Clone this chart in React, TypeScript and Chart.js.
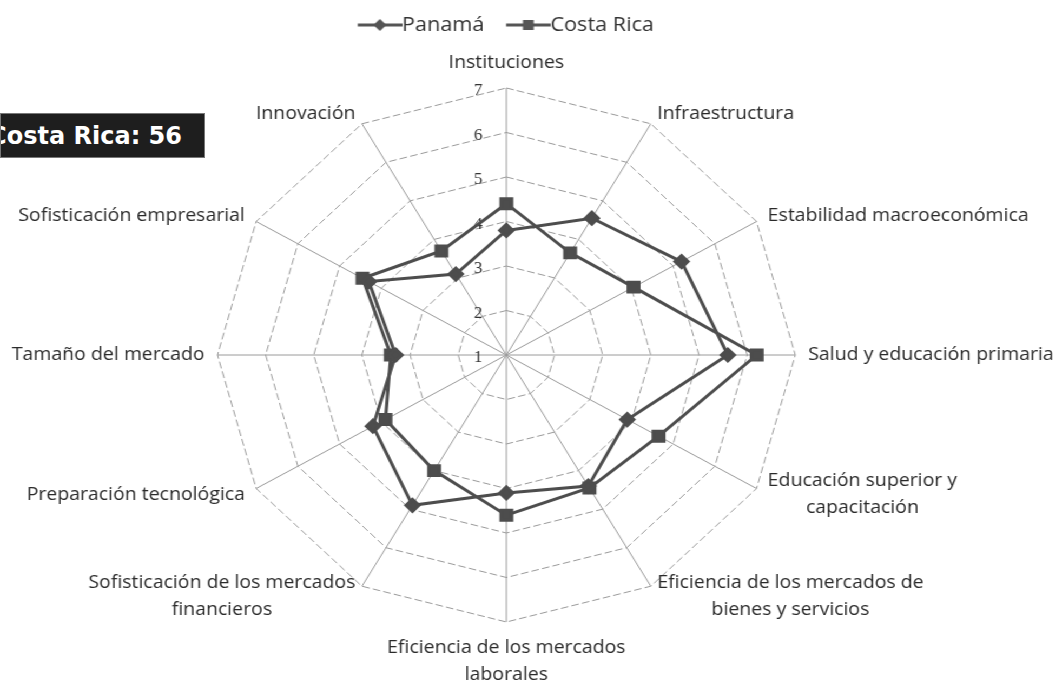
import React, { useEffect, useRef } from "react";
import { Chart, registerables } from "chart.js";

Chart.register(...registerables);

// ---- Data ----
const categories: (string | string[])[] = [
  "Instituciones",
  "Infraestructura",
  "Estabilidad macroeconómica",
  "Salud y educación primaria",
  ["Educación superior y", "capacitación"],
  ["Eficiencia de los mercados de", "bienes y servicios"],
  ["Eficiencia de los mercados", "laborales"],
  ["Sofisticación de los mercados", "financieros"],
  "Preparación tecnológica",
  "Tamaño del mercado",
  "Sofisticación empresarial",
  "Innovación",
];
const seriesNames = ["Panamá", "Costa Rica"];
const panama = [3.8, 4.55, 5.2, 5.6, 3.9, 4.4, 4.1, 4.9, 4.2, 3.3, 4.3, 3.1];
const costaRica = [4.4, 3.65, 4.05, 6.2, 4.65, 4.45, 4.6, 4.0, 3.9, 3.4, 4.45, 3.7];
const tickMin = 1;
const tickMax = 7;
const tickStep = 1;
const rankLabel = "Costa Rica: 56";

// ---- Layout constants ----
const SX = 1.082; // horizontal stretch of the reference image
const CW = 975;
const CH = 683;
const CX = 468;
const CY = 355;
const R = 267;
const LINE = "#4d4d4d";

function makeSymbol(shape: "diamond" | "square"): HTMLCanvasElement {
  const c = document.createElement("canvas");
  c.width = 61;
  c.height = 16;
  const g = c.getContext("2d")!;
  g.strokeStyle = "#555";
  g.fillStyle = "#555";
  g.lineWidth = 3;
  g.beginPath();
  g.moveTo(20, 8);
  g.lineTo(61, 8);
  g.stroke();
  const mx = 40.5;
  const my = 8;
  if (shape === "diamond") {
    g.beginPath();
    g.moveTo(mx, my - 6);
    g.lineTo(mx + 6, my);
    g.lineTo(mx, my + 6);
    g.lineTo(mx - 6, my);
    g.closePath();
    g.fill();
  } else {
    g.fillRect(mx - 5, my - 5, 10, 10);
  }
  return c;
}

const labelPlugin = {
  id: "customLabels",
  beforeDatasetsDraw(chart: any) {
    const scale = chart.scales.r;
    const ctx = chart.ctx as CanvasRenderingContext2D;
    ctx.save();
    ctx.font = "16px 'Liberation Serif'";
    ctx.fillStyle = "#333";
    ctx.textAlign = "center";
    ctx.textBaseline = "middle";
    scale.ticks.forEach((t: any) => {
      const d = scale.getDistanceFromCenterForValue(t.value);
      ctx.fillText(String(t.value), scale.xCenter - 26, scale.yCenter - d + 3);
    });
    ctx.restore();
  },
  afterDraw(chart: any) {
    const scale = chart.scales.r;
    const ctx = chart.ctx as CanvasRenderingContext2D;
    const labels = chart.data.labels as (string | string[])[];
    const n = labels.length;
    const lh = 27;
    ctx.save();
    ctx.font = "18px 'Open Sans'";
    ctx.fillStyle = "#2a2a2a";
    ctx.textBaseline = "middle";
    ctx.textAlign = "center";
    labels.forEach((lbl, i) => {
      const lines = Array.isArray(lbl) ? lbl : [lbl];
      const p = scale.getPointPosition(i, scale.drawingArea + 12);
      const ang = (i / n) * Math.PI * 2;
      const s = Math.sin(ang);
      const c = Math.cos(ang);
      const maxW = Math.max(...lines.map((l) => ctx.measureText(l).width));
      const h = lines.length * lh;
      let cx: number;
      let top: number;
      if (Math.abs(s) < 0.01) {
        cx = p.x;
        top = c > 0 ? p.y - h : p.y;
      } else {
        cx = s > 0 ? p.x + maxW / 2 : p.x - maxW / 2;
        top = p.y - h / 2;
      }
      lines.forEach((l, j) => ctx.fillText(l, cx, top + lh * j + lh / 2));
    });
    ctx.restore();
  },
};

export default function App() {
  const ref = useRef<HTMLCanvasElement | null>(null);

  useEffect(() => {
    if (!ref.current) return;
    const symbols = [makeSymbol("diamond"), makeSymbol("square")];
    const chart = new Chart(ref.current, {
      type: "radar",
      data: {
        labels: categories,
        datasets: [
          {
            label: seriesNames[0],
            data: panama,
            borderColor: LINE,
            backgroundColor: LINE,
            borderWidth: 3,
            pointStyle: "rectRot",
            pointRadius: 6,
            pointBackgroundColor: LINE,
            pointBorderColor: LINE,
            fill: false,
          },
          {
            label: seriesNames[1],
            data: costaRica,
            borderColor: LINE,
            backgroundColor: LINE,
            borderWidth: 3,
            pointStyle: "rect",
            pointRadius: 7,
            pointBackgroundColor: LINE,
            pointBorderColor: LINE,
            fill: false,
          },
        ],
      },
      options: {
        animation: false,
        responsive: false,
        maintainAspectRatio: false,
        layout: { padding: { top: 5, right: 50 } },
        elements: { line: { tension: 0 } },
        plugins: {
          tooltip: { enabled: false },
          legend: {
            position: "top",
            labels: {
              usePointStyle: true,
              pointStyleWidth: 41,
              padding: 10,
              color: "#333",
              font: { family: "'Open Sans'", size: 20 },
              generateLabels: (ch: any) =>
                Chart.defaults.plugins.legend.labels
                  .generateLabels(ch)
                  .map((it: any, i: number) => ({ ...it, pointStyle: symbols[i] })),
            },
          },
        },
        scales: {
          r: {
            min: tickMin,
            max: tickMax,
            ticks: { stepSize: tickStep, display: false },
            pointLabels: { display: false },
            grid: { color: "#9a9a9a", lineWidth: 1 },
            border: { dash: [7, 3] },
            angleLines: { color: "#9a9a9a", lineWidth: 1 },
            afterFit: (s: any) => {
              s.xCenter = CX;
              s.yCenter = CY;
              s.drawingArea = R;
            },
          },
        },
      } as any,
      plugins: [labelPlugin],
    });
    return () => chart.destroy();
  }, []);

  return (
    <>
      <div
        style={{
          position: "absolute",
          left: 0,
          top: 0,
          width: CW,
          height: CH,
          transform: `scaleX(${SX})`,
          transformOrigin: "0 0",
          background: "#fff",
        }}
      >
        <canvas ref={ref} width={CW} height={CH} style={{ display: "block" }} />
      </div>
      <div
        style={{
          position: "absolute",
          left: 0,
          top: 113,
          width: 205,
          height: 45,
          boxSizing: "border-box",
          background: "#1e1e1e",
          border: "1px solid #777",
          color: "#fff",
          fontFamily: "'DejaVu Sans'",
          fontWeight: 700,
          fontSize: 24,
          display: "flex",
          alignItems: "center",
          justifyContent: "flex-end",
          paddingRight: 22,
          whiteSpace: "nowrap",
          overflow: "hidden",
        }}
      >
        {rankLabel}
      </div>
    </>
  );
}
